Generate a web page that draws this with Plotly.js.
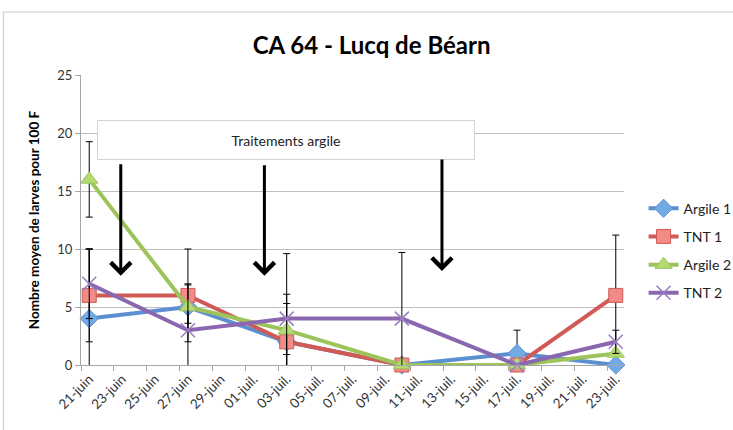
<!DOCTYPE html>
<html>
<head>
<meta charset="utf-8">
<script src="https://cdn.plot.ly/plotly-3.0.1.min.js"></script>
<style>html,body{margin:0;padding:0;background:#fff;}#chart{width:733px;height:430px;}</style>
</head>
<body>
<div id="chart"></div>
<script>
// ---- Data ----
const dates = ['2011-06-21', '2011-06-27', '2011-07-03', '2011-07-10', '2011-07-17', '2011-07-23'];
const argile1 = [4, 5, 2, 0, 1, 0];
const tnt1 = [6, 6, 2, 0, 0, 6];
const argile2 = [16, 5, 3, 0, 0, 1];
const tnt2 = [7, 3, 4, 4, 0, 2];
const errArgile1 = [6, 1.4, 3.3, null, 2, null];
const errTnt1 = [4, 4, 1.1, null, null, 5.2];
const errArgile2 = [3.25, 1.9, 3.1, null, null, null];
const errTnt2 = [3, 4, 5.6, 5.7, null, 1];
const tickDates = ['2011-06-21','2011-06-23','2011-06-25','2011-06-27','2011-06-29','2011-07-01','2011-07-03','2011-07-05','2011-07-07','2011-07-09','2011-07-11','2011-07-13','2011-07-15','2011-07-17','2011-07-19','2011-07-21','2011-07-23'];
const tickLabels = ['21-juin','23-juin','25-juin','27-juin','29-juin','01-juil.','03-juil.','05-juil.','07-juil.','09-juil.','11-juil.','13-juil.','15-juil.','17-juil.','19-juil.','21-juil.','23-juil.'];
const treatmentDates = ['2011-06-22 22:00', '2011-07-01 15:30', '2011-07-12 10:30'];
const arrowTip = [7.7, 7.7, 8.1];
const arrowLen = [113, 112, 113];

const FONT = 'Lato, "Open Sans", sans-serif';

function errCfg(arr) {
  return {type: 'data', array: arr, visible: true, color: '#000', thickness: 1, width: 3.5};
}

const traces = [
  {name: 'Argile 1', x: dates, y: argile1, error_y: errCfg(errArgile1),
   line: {color: '#5b8fd0', width: 4},
   marker: {symbol: 'diamond', size: 14, color: '#72aae6', line: {color: '#5b8fd0', width: 1}}},
  {name: 'TNT 1', x: dates, y: tnt1, error_y: errCfg(errTnt1),
   line: {color: '#d05a55', width: 4},
   marker: {symbol: 'square', size: 14, color: '#f08b86', line: {color: '#d05a55', width: 1}}},
  {name: 'Argile 2', x: dates, y: argile2, error_y: errCfg(errArgile2),
   line: {color: '#9cc45a', width: 4},
   marker: {symbol: 'triangle-up', size: 15, color: '#b5da72', line: {color: '#9cc45a', width: 1}}},
  {name: 'TNT 2', x: dates, y: tnt2, error_y: errCfg(errTnt2),
   line: {color: '#8a68b0', width: 4},
   marker: {symbol: 'x-thin-open', size: 14, color: '#9a7cc4', line: {color: '#9a7cc4', width: 1.5}}}
].map((t, i) => Object.assign({type: 'scatter', mode: 'lines+markers', cliponaxis: false, legendgroup: 'g' + i}, t));

const annotations = [{
  text: 'Traitements argile', xref: 'paper', yref: 'paper', x: 0.3775, y: 0.776,
  xanchor: 'center', yanchor: 'middle', showarrow: false,
  width: 376, height: 38, bgcolor: '#ffffff', bordercolor: '#d4d4d4', borderwidth: 1, borderpad: 0,
  font: {family: FONT, size: 14, color: '#222'}
}];
treatmentDates.forEach((d, i) => {
  annotations.push({
    text: '', x: d, y: arrowTip[i], xref: 'x', yref: 'y',
    showarrow: true, ax: 0, ay: -arrowLen[i], arrowcolor: '#000',
    arrowwidth: 3, arrowhead: 4, arrowsize: 1.3, standoff: 0
  });
});

const layout = {
  width: 733, height: 430,
  margin: {l: 81, r: 109, t: 75, b: 65},
  paper_bgcolor: '#fff', plot_bgcolor: '#fff',
  font: {family: FONT, color: '#222'},
  title: {text: '<b>CA 64 - Lucq de Béarn</b>', x: 0.507, xanchor: 'center', y: 0.895, yanchor: 'middle',
          font: {family: FONT, size: 24, color: '#000'}},
  xaxis: {
    type: 'date', range: ['2011-06-20 12:00', '2011-07-23 12:00'],
    tickvals: tickDates, ticktext: tickLabels, tickangle: -45,
    tickfont: {family: FONT, size: 13.5, color: '#333'},
    showgrid: false, zeroline: false, showline: true, linecolor: '#a6a6a6', linewidth: 1,
    ticks: '',
    minor: {dtick: 2 * 86400000, tick0: '2011-06-20 12:00', ticks: 'outside', ticklen: 5, tickcolor: '#a6a6a6', showgrid: false}
  },
  yaxis: {
    range: [0, 25], dtick: 5, tick0: 0,
    title: {text: '<b>Nombre moyen de larves pour 100 F</b>', font: {family: FONT, size: 13.5, color: '#000'}, standoff: 14},
    tickfont: {family: FONT, size: 13, color: '#333'},
    showgrid: true, gridcolor: '#bfbfbf', gridwidth: 1,
    zeroline: false, showline: true, linecolor: '#a6a6a6', ticks: 'outside', ticklen: 5, tickcolor: '#a6a6a6'
  },
  legend: {xref: 'container', yref: 'container', x: 0.878, xanchor: 'left', y: 0.552, yanchor: 'top',
           tracegroupgap: 7, itemwidth: 30,
           font: {family: FONT, size: 14, color: '#222'}, bgcolor: 'rgba(0,0,0,0)'},
  showlegend: true,
  annotations: annotations,
  shapes: [{type: 'rect', xref: 'paper', yref: 'paper', x0: -0.143, x1: 1.25, y0: -0.3, y1: 1.217,
            line: {color: '#c8c8c8', width: 1}, layer: 'below'}]
};

Plotly.newPlot('chart', traces, layout, {displayModeBar: false, staticPlot: true});
</script>
</body>
</html>
